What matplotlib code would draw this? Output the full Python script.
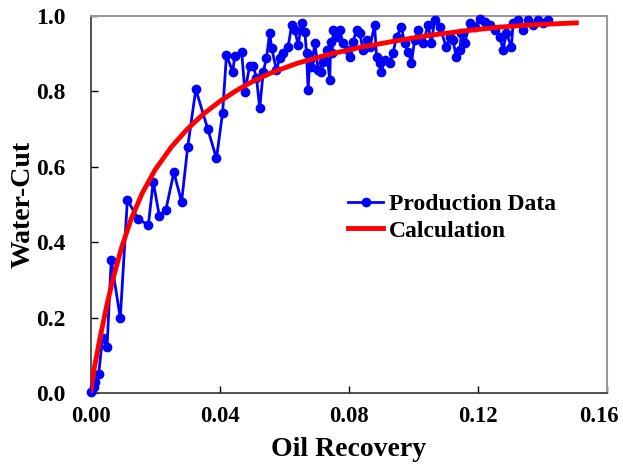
import matplotlib
matplotlib.use("Agg")
import matplotlib.pyplot as plt
from matplotlib.transforms import ScaledTranslation


# production history
recovery = [0.0000, 0.0010, 0.0015, 0.0025, 0.0037, 0.0051, 0.0064, 0.0092, 0.0114, 0.0148,
            0.0179, 0.0194, 0.0213, 0.0233, 0.0258, 0.0282, 0.0301, 0.0326, 0.0363, 0.0390,
            0.0409, 0.0421, 0.0440, 0.0447, 0.0468, 0.0478, 0.0493, 0.0503, 0.0514, 0.0524,
            0.0535, 0.0545, 0.0555, 0.0561, 0.0576, 0.0586, 0.0597, 0.0612, 0.0623, 0.0633,
            0.0643, 0.0654, 0.0664, 0.0669, 0.0674, 0.0679, 0.0684, 0.0695, 0.0705, 0.0715,
            0.0720, 0.0731, 0.0741, 0.0744, 0.0748, 0.0752, 0.0762, 0.0772, 0.0782, 0.0798,
            0.0803, 0.0813, 0.0824, 0.0834, 0.0844, 0.0855, 0.0865, 0.0880, 0.0886, 0.0896,
            0.0901, 0.0911, 0.0927, 0.0937, 0.0948, 0.0963, 0.0973, 0.0984, 0.0994, 0.1004,
            0.1015, 0.1030, 0.1046, 0.1056, 0.1066, 0.1082, 0.1102, 0.1113, 0.1123, 0.1133,
            0.1144, 0.1149, 0.1159, 0.1175, 0.1190, 0.1206, 0.1221, 0.1237, 0.1252, 0.1268,
            0.1278, 0.1288, 0.1304, 0.1309, 0.1324, 0.1340, 0.1355, 0.1371, 0.1386, 0.1402,
            0.1417]
water_cut = [0.004, 0.017, 0.031, 0.051, 0.146, 0.123, 0.353, 0.199, 0.512, 0.461,
             0.446, 0.560, 0.470, 0.485, 0.585, 0.507, 0.653, 0.805, 0.700, 0.622,
             0.743, 0.896, 0.852, 0.892, 0.905, 0.799, 0.868, 0.868, 0.836, 0.755,
             0.851, 0.888, 0.955, 0.914, 0.856, 0.888, 0.901, 0.917, 0.975, 0.962,
             0.922, 0.981, 0.957, 0.901, 0.803, 0.883, 0.864, 0.927, 0.856, 0.851,
             0.877, 0.909, 0.830, 0.930, 0.901, 0.962, 0.944, 0.962, 0.927, 0.909,
             0.891, 0.930, 0.962, 0.954, 0.909, 0.935, 0.917, 0.975, 0.891, 0.875,
             0.851, 0.883, 0.875, 0.901, 0.944, 0.970, 0.927, 0.905, 0.875, 0.935,
             0.962, 0.927, 0.975, 0.927, 0.989, 0.970, 0.917, 0.944, 0.935, 0.891,
             0.909, 0.954, 0.927, 0.981, 0.970, 0.992, 0.983, 0.975, 0.962, 0.944,
             0.909, 0.954, 0.917, 0.981, 0.989, 0.962, 0.989, 0.975, 0.989, 0.981,
             0.989]

# calculated water-cut curve
calc_recovery = [0.0000, 0.0010, 0.0030, 0.0050, 0.0070, 0.0095, 0.0125, 0.0160, 0.0200, 0.0250,
                 0.0300, 0.0350, 0.0400, 0.0450, 0.0500, 0.0560, 0.0640, 0.0740, 0.0840, 0.0950,
                 0.1050, 0.1160, 0.1270, 0.1370, 0.1505]
calc_water_cut = [0.000, 0.060, 0.150, 0.232, 0.305, 0.383, 0.460, 0.530, 0.592, 0.652,
                  0.700, 0.740, 0.773, 0.801, 0.825, 0.849, 0.874, 0.898, 0.917, 0.934,
                  0.948, 0.960, 0.970, 0.976, 0.981]

xticks = [0.00, 0.04, 0.08, 0.12, 0.16]
yticks = [0.0, 0.2, 0.4, 0.6, 0.8, 1.0]

plt.rcParams['font.family'] = ['Liberation Serif', 'DejaVu Serif']
plt.rcParams['font.weight'] = 'bold'

fig = plt.figure(figsize=(6.23, 4.65), dpi=100)
ax = fig.add_axes([0.1454, 0.1542, 0.8289, 0.812])

ax.plot(recovery, water_cut, color='blue', lw=2, marker='o', ms=6,
        label='Production Data', clip_on=False, zorder=3)
ax.plot(calc_recovery, calc_water_cut, color='red', lw=3.5, label='Calculation', zorder=4)

ax.set_xlim(0, 0.16)
ax.set_ylim(0, 1.0)
ax.set_xticks(xticks)
ax.set_yticks(yticks)
ax.set_xticklabels(['%.2f' % t for t in xticks])
ax.set_yticklabels(['%.1f' % t for t in yticks])
ax.tick_params(direction='in', length=5, width=1, labelsize=17,
               top=False, right=False)
ax.tick_params(axis='x', pad=9, labelsize=16.3)
ax.tick_params(axis='y', pad=18)

# keep the last x label inside the canvas
last = ax.get_xticklabels()[-1]
last.set_transform(last.get_transform() + ScaledTranslation(-6 / 72, 0, fig.dpi_scale_trans))

for side in ['left', 'bottom']:
    ax.spines[side].set_color('#333333')
    ax.spines[side].set_linewidth(1.2)
for side in ['top', 'right']:
    ax.spines[side].set_color('#999999')
    ax.spines[side].set_linewidth(1.5)

ax.set_xlabel('Oil Recovery', fontsize=20, fontweight='bold', labelpad=7)
ax.set_ylabel('Water-Cut', fontsize=20, fontweight='bold', labelpad=0)

leg = ax.legend(loc='upper left', bbox_to_anchor=(0.48, 0.553), frameon=False,
                fontsize=17, handlelength=1.5, handletextpad=0.25, labelspacing=0.2,
                borderaxespad=0)

fig.savefig('out.png', dpi=100)
